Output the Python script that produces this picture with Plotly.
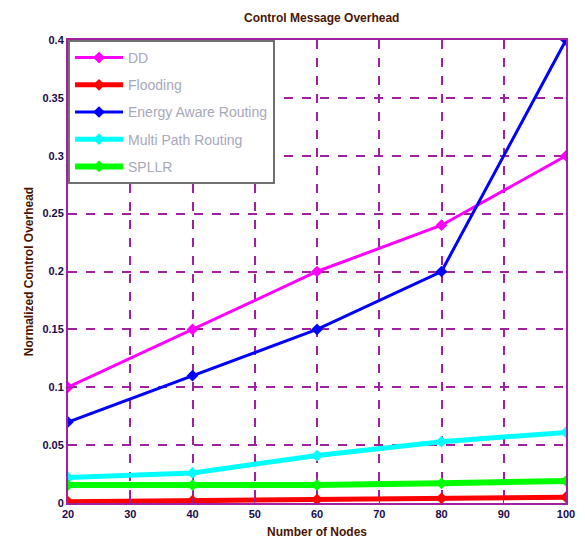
import plotly.graph_objects as go

nodes = [20, 40, 60, 80, 100]
dd = [0.10, 0.15, 0.20, 0.24, 0.30]
flooding = [0.001, 0.002, 0.003, 0.004, 0.005]
energy_aware = [0.07, 0.11, 0.15, 0.20, 0.40]
multi_path = [0.022, 0.026, 0.041, 0.053, 0.061]
spllr = [0.0155, 0.0155, 0.0155, 0.017, 0.019]

x_ticks = [20, 30, 40, 50, 60, 70, 80, 90, 100]
y_ticks = [0, 0.05, 0.1, 0.15, 0.2, 0.25, 0.3, 0.35, 0.4]
y_tick_text = ["0", "0.05", "0.1", "0.15", "0.2", "0.25", "0.3", "0.35", "0.4"]

series = [
    ("DD", dd, "#ff00ff", 3),
    ("Flooding", flooding, "#ff0000", 5),
    ("Energy Aware Routing", energy_aware, "#0000ff", 3),
    ("Multi Path Routing", multi_path, "#00ffff", 5),
    ("SPLLR", spllr, "#00ff00", 6),
]

fig = go.Figure()
for name, vals, color, width in series:
    fig.add_trace(go.Scatter(
        x=nodes, y=vals, name=name, legendgroup=name, mode="lines+markers",
        line=dict(color=color, width=width),
        marker=dict(symbol="diamond", size=9, color=color),
    ))

grid_color = "#a020a0"
tick_font = dict(family="Liberation Sans", size=11, color="#1a0a4a", weight="bold")
label_font = dict(family="Liberation Sans", size=12, color="#4a1500")

fig.update_layout(
    width=585, height=547,
    margin=dict(l=68, r=10, t=40, b=44),
    paper_bgcolor="white", plot_bgcolor="white",
    title=dict(text="<b>Control Message Overhead</b>", x=0.55, xanchor="center",
               y=0.968, yanchor="middle", font=label_font),
    showlegend=True,
    legend=dict(x=0.0, y=1.0, xanchor="left", yanchor="top",
                bgcolor="white", bordercolor="#707070", borderwidth=2,
                font=dict(family="Liberation Sans", size=14, color="#a8a8b8"),
                itemwidth=48, tracegroupgap=6),
    xaxis=dict(range=[20, 100], tickvals=x_ticks, showgrid=True,
               gridcolor=grid_color, griddash="dash", gridwidth=1.5,
               showline=True, linecolor=grid_color, linewidth=2, mirror=True,
               ticks="inside", tickcolor=grid_color, ticklen=5,
               tickfont=tick_font, zeroline=False,
               title=dict(text="<b>Number of Nodes</b>", standoff=8, font=label_font)),
    yaxis=dict(range=[0, 0.4], tickvals=y_ticks, ticktext=y_tick_text, showgrid=True,
               gridcolor=grid_color, griddash="dash", gridwidth=1.5,
               showline=True, linecolor=grid_color, linewidth=2, mirror=True,
               ticks="inside", tickcolor=grid_color, ticklen=5,
               tickfont=tick_font, zeroline=False,
               title=dict(text="<b>Normalized Control Overhead</b>", standoff=6, font=label_font)),
)

fig.write_html("out.html")
